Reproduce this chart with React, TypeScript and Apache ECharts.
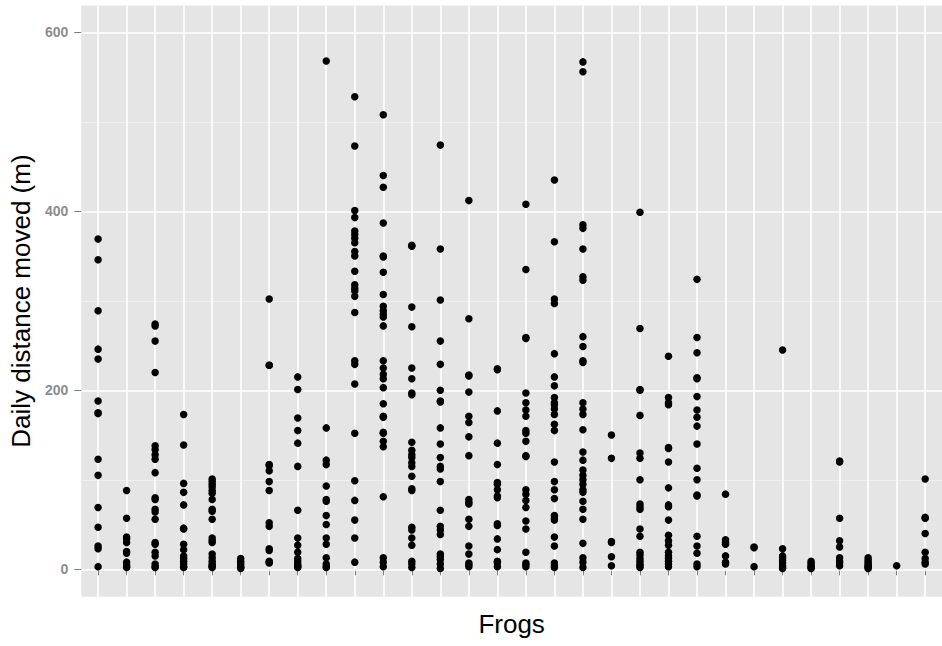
import React, { useEffect, useRef } from "react";
import * as echarts from "echarts";

// Daily distance moved (m) per frog (30 frogs, one category each)
const frog01 = [369, 346, 289, 246, 235, 188, 175, 174, 123, 105, 69, 47, 26, 23, 3];
const frog02 = [88, 57, 36, 34, 30, 20, 18, 8, 5, 3, 2];
const frog03 = [274, 272, 255, 220, 138, 134, 128, 123, 108, 80, 78, 67, 64, 56, 30, 28, 19, 15, 6, 3, 2];
const frog04 = [173, 139, 96, 86, 72, 46, 45, 28, 22, 15, 12, 9, 6, 3, 2];
const frog05 = [101, 98, 95, 92, 88, 85, 78, 67, 65, 56, 35, 32, 30, 17, 13, 9, 6, 4, 3, 2];
const frog06 = [12, 9, 7, 5, 3, 2, 1];
const frog07 = [302, 228, 228, 117, 116, 110, 98, 88, 52, 48, 23, 21, 9, 8, 7];
const frog08 = [215, 201, 169, 155, 141, 115, 66, 35, 27, 19, 12, 9, 6, 4, 3, 2];
const frog09 = [568, 158, 122, 117, 93, 78, 76, 60, 50, 35, 28, 13, 6, 3, 2];
const frog10 = [528, 473, 401, 393, 378, 374, 370, 365, 355, 350, 333, 318, 314, 311, 305, 287, 233, 229, 207, 152, 99, 77, 55, 35, 8];
const frog11 = [508, 440, 427, 387, 350, 349, 332, 307, 294, 289, 285, 282, 272, 233, 225, 218, 213, 203, 185, 171, 170, 153, 152, 143, 137, 81, 13, 8, 3];
const frog12 = [362, 361, 293, 271, 225, 213, 197, 195, 142, 133, 128, 125, 119, 115, 104, 90, 88, 47, 44, 35, 27, 9, 6, 2];
const frog13 = [474, 358, 301, 255, 229, 200, 188, 187, 158, 140, 125, 115, 112, 98, 66, 48, 44, 39, 17, 14, 11, 6, 1];
const frog14 = [412, 280, 217, 216, 198, 171, 164, 148, 127, 78, 75, 73, 56, 48, 26, 17, 7, 5, 3];
const frog15 = [224, 223, 177, 141, 117, 97, 95, 89, 82, 80, 51, 49, 34, 22, 9, 7, 3];
const frog16 = [408, 335, 259, 258, 197, 186, 178, 171, 155, 152, 143, 127, 126, 89, 84, 77, 69, 54, 45, 19, 7, 5, 3];
const frog17 = [435, 366, 302, 297, 241, 215, 205, 192, 186, 184, 179, 173, 162, 155, 120, 98, 89, 79, 60, 57, 55, 36, 26, 7, 4, 2];
const frog18 = [567, 556, 385, 381, 358, 327, 323, 260, 249, 233, 231, 186, 179, 173, 156, 131, 122, 111, 105, 100, 95, 89, 86, 76, 67, 56, 29, 13, 8, 2];
const frog19 = [150, 124, 31, 30, 14, 4];
const frog20 = [399, 269, 201, 200, 172, 130, 124, 100, 73, 70, 67, 45, 37, 19, 16, 12, 9, 6, 4, 2];
const frog21 = [238, 192, 186, 184, 136, 135, 120, 91, 72, 70, 55, 38, 32, 27, 19, 15, 12, 9, 6, 3];
const frog22 = [324, 259, 242, 214, 213, 193, 178, 170, 160, 140, 113, 100, 83, 82, 37, 26, 18, 6, 3];
const frog23 = [84, 33, 30, 28, 15, 8, 6];
const frog24 = [25, 24, 3];
const frog25 = [245, 23, 15, 13, 10, 7, 4, 2, 1];
const frog26 = [9, 7, 5, 3, 2, 1];
const frog27 = [121, 120, 57, 32, 25, 13, 9, 7, 4];
const frog28 = [13, 10, 8, 6, 4, 3, 2, 1];
const frog29 = [4];
const frog30 = [101, 58, 57, 40, 19, 12, 8, 6];

const frogs = [
  frog01, frog02, frog03, frog04, frog05, frog06, frog07, frog08, frog09, frog10,
  frog11, frog12, frog13, frog14, frog15, frog16, frog17, frog18, frog19, frog20,
  frog21, frog22, frog23, frog24, frog25, frog26, frog27, frog28, frog29, frog30,
];

const frogPositions = frogs.map((_, i) => i + 1);
const majorTicks = [0, 200, 400, 600];
const minorTicks = [100, 300, 500];

export default function App() {
  const ref = useRef<HTMLDivElement>(null);

  useEffect(() => {
    if (!ref.current) return;
    const chart = echarts.init(ref.current, null, { renderer: "svg" });

    const points: number[][] = [];
    frogs.forEach((vals, i) => {
      vals.forEach((v) => points.push([frogPositions[i], v]));
    });

    const yMin = -30.6;
    const yMax = 630;

    chart.setOption({
      animation: false,
      backgroundColor: "#FFFFFF",
      grid: {
        left: 80.7,
        top: 5.5,
        width: 869,
        height: 591.2,
        show: true,
        backgroundColor: "#E5E5E5",
        borderWidth: 0,
      },
      xAxis: {
        type: "value",
        min: 0.41,
        max: 30.59,
        name: "Frogs",
        nameLocation: "middle",
        nameGap: 14,
        nameTextStyle: {
          fontSize: 26,
          color: "#000000",
          fontFamily: "Liberation Sans, Arial, sans-serif",
          verticalAlign: "top",
        },
        axisLine: { show: false },
        axisTick: {
          show: true,
          customValues: frogPositions,
          length: 6,
          lineStyle: { color: "#7F7F7F", width: 1 },
        },
        axisLabel: { show: false },
        splitLine: { show: true, lineStyle: { color: "#FFFFFF", width: 1.6 } },
      },
      yAxis: [
        {
          type: "value",
          min: yMin,
          max: yMax,
          name: "Daily distance moved (m)",
          nameLocation: "middle",
          nameRotate: 90,
          nameGap: 45,
          nameTextStyle: {
            fontSize: 26,
            color: "#000000",
            fontFamily: "Liberation Sans, Arial, sans-serif",
          },
          axisLine: { show: false },
          axisTick: {
            show: true,
            customValues: majorTicks,
            length: 7,
            lineStyle: { color: "#7F7F7F", width: 1 },
          },
          axisLabel: {
            show: true,
            customValues: majorTicks,
            margin: 13,
            fontSize: 14,
            fontWeight: "bold",
            color: "#8C8C8C",
            fontFamily: "Liberation Sans, Arial, sans-serif",
          },
          splitLine: { show: true, lineStyle: { color: "#FFFFFF", width: 1.6 } },
          z: 1,
        },
        {
          type: "value",
          min: yMin,
          max: yMax,
          position: "left",
          axisLine: { show: false },
          axisTick: { show: false, customValues: minorTicks },
          axisLabel: { show: false },
          splitLine: { show: true, lineStyle: { color: "#F2F2F2", width: 0.8 } },
          z: 0,
        },
      ],
      series: [
        {
          type: "scatter",
          xAxisIndex: 0,
          yAxisIndex: 0,
          data: points,
          symbol: "circle",
          symbolSize: 7.5,
          itemStyle: { color: "#000000", opacity: 1 },
          silent: true,
        },
      ],
    });

    return () => chart.dispose();
  }, []);

  return (
    <div
      ref={ref}
      style={{ position: "fixed", left: 0, top: 0, width: 942, height: 646 }}
    />
  );
}
